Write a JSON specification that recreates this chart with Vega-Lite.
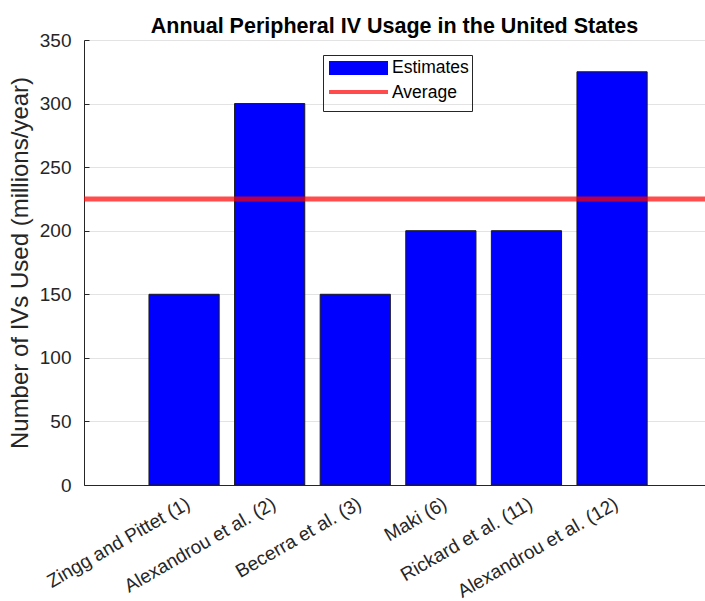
{
  "$schema": "https://vega.github.io/schema/vega-lite/v6.json",
  "width": 621,
  "height": 445,
  "autosize": {"type": "none"},
  "padding": {"left": 84, "top": 40, "right": 0, "bottom": 116},
  "background": "white",
  "title": {
    "text": "Annual Peripheral IV Usage in the United States",
    "font": "Liberation Sans",
    "fontSize": 21.5,
    "fontWeight": "bold",
    "color": "black",
    "anchor": "middle",
    "frame": "group",
    "offset": -6
  },
  "config": {
    "view": {"stroke": null},
    "axis": {
      "labelFont": "Liberation Sans",
      "titleFont": "Liberation Sans",
      "labelColor": "#262626",
      "titleColor": "#262626",
      "domainColor": "#262626",
      "tickColor": "#262626",
      "domainWidth": 1
    }
  },
  "datasets": {
    "est": [
      {"study": "Zingg and Pittet (1)", "series": "Estimates", "value": 150},
      {"study": "Alexandrou et al. (2)", "series": "Estimates", "value": 300},
      {"study": "Becerra et al. (3)", "series": "Estimates", "value": 150},
      {"study": "Maki (6)", "series": "Estimates", "value": 200},
      {"study": "Rickard et al. (11)", "series": "Estimates", "value": 200},
      {"study": "Alexandrou et al. (12)", "series": "Estimates", "value": 325}
    ],
    "avg": [{"kind": "Average", "value": 225}]
  },
  "layer": [
    {
      "data": {"name": "est"},
      "mark": {"type": "bar", "stroke": "#1a1a1a", "strokeWidth": 1},
      "encoding": {
        "x": {
          "field": "study",
          "type": "nominal",
          "sort": null,
          "scale": {"paddingInner": 0.18, "paddingOuter": 0.7175, "align": 0.529},
          "axis": {
            "title": null,
            "labelAngle": -30,
            "labelAlign": "right",
            "labelBaseline": "top",
            "labelFontSize": 19,
            "labelLimit": 0,
            "tickSize": -5,
            "labelPadding": 14,
            "grid": false
          }
        },
        "y": {
          "field": "value",
          "type": "quantitative",
          "scale": {"domain": [0, 350], "nice": false},
          "axis": {
            "title": "Number of IVs Used (millions/year)",
            "titleFontSize": 24,
            "titleFontWeight": "normal",
            "titlePadding": 7,
            "values": [0, 50, 100, 150, 200, 250, 300, 350],
            "labelFontSize": 19,
            "tickSize": -5,
            "labelPadding": 18,
            "grid": true,
            "gridColor": "#e3e3e3",
            "gridWidth": 1
          }
        },
        "fill": {
          "field": "series",
          "type": "nominal",
          "scale": {"domain": ["Estimates", "Average"], "range": ["#0000ff", "transparent"]},
          "legend": {
            "title": null,
            "orient": "none",
            "legendX": 239,
            "legendY": 15,
            "strokeColor": "#262626",
            "fillColor": "transparent",
            "padding": 3,
            "labelFont": "Liberation Sans",
            "labelFontSize": 17.5,
            "labelColor": "black",
            "labelOffset": 46,
            "rowPadding": -10,
            "symbolSize": 256,
            "symbolType": "M-0.875,-0.875H6.5V0.875H-0.875Z",
            "symbolStrokeColor": "transparent",
            "symbolStrokeWidth": 4,
            "symbolOpacity": 1
          }
        }
      }
    },
    {
      "data": {"name": "avg"},
      "mark": {"type": "rule", "strokeWidth": 5, "opacity": 0.7},
      "encoding": {
        "y": {"field": "value", "type": "quantitative"},
        "stroke": {
          "field": "kind",
          "type": "nominal",
          "scale": {"domain": ["Estimates ", "Average"], "range": ["transparent", "#ff0000"]},
          "legend": {
            "title": null,
            "orient": "none",
            "legendX": 239,
            "legendY": 20,
            "strokeColor": "transparent",
            "fillColor": "transparent",
            "padding": 3,
            "labelFont": "Liberation Sans",
            "labelFontSize": 17.5,
            "labelOpacity": 0,
            "labelOffset": 46,
            "rowPadding": 0,
            "symbolSize": 256,
            "symbolType": "M-0.875,0H6.5",
            "symbolFillColor": "transparent",
            "symbolStrokeWidth": 4,
            "symbolOpacity": 0.7
          }
        }
      }
    }
  ]
}
